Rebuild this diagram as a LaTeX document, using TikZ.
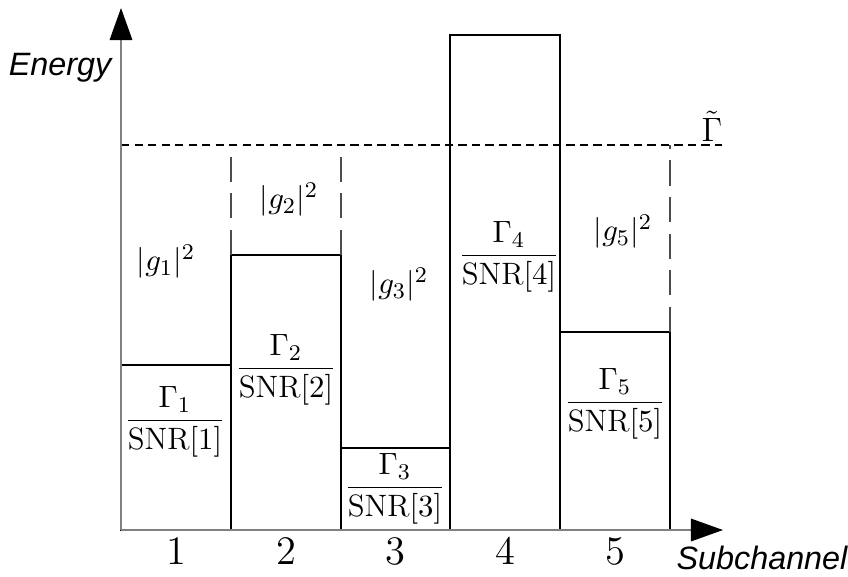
\documentclass[tikz,border=0pt]{standalone}
\usepackage{amsmath}
\usepackage{fontspec}
\newfontfamily\axisfont{Liberation Sans}
\usetikzlibrary{arrows.meta}

\tikzset{
  box/.style={draw=black, line width=0.6pt},
  gap/.style={black!70, line width=0.6pt, dash pattern=on 9pt off 4pt},
  level/.style={black, line width=0.5pt, dash pattern=on 3pt off 1.8pt},
  axis/.style={gray, line width=0.7pt, -{Triangle[length=0.4cm, width=0.28cm, color=black]}},
  lbl/.style={font=\fontsize{11}{13}\selectfont, inner sep=1pt},
  tick/.style={font=\fontsize{14}{16}\selectfont},
  axlabel/.style={font=\axisfont\itshape\fontsize{11.5}{13}\selectfont}
}

\begin{document}
\begin{tikzpicture}[x=0.0125cm, y=-0.0125cm]
  \useasboundingbox (0,0) rectangle (848,576);
  \coordinate (O) at (121,530);
  \coordinate (ytip) at (121,8);
  \coordinate (xtip) at (723,530);
  % subchannel boxes
  \draw[box] (121,530) rectangle (231,365);
  \draw[box] (231,530) rectangle (341,255);
  \draw[box] (341,530) rectangle (450,448);
  \draw[box] (450,530) rectangle (560,35);
  \draw[box] (560,530) rectangle (670,332);
  % water level
  \draw[gap] (231,255) -- (231,145);
  \draw[gap] (341,255) -- (341,145);
  \draw[gap] (670,332) -- (670,145);
  \draw[level] (121,145) -- (722,145);
  \node[font=\fontsize{12.5}{14}\selectfont, anchor=south, inner sep=0.3pt] (wl) at (712,143) {$\tilde{\Gamma}$};
  % axes
  \draw[axis] (O) -- (ytip);
  \draw[axis] (O) -- (xtip);
  \node[axlabel] (ylab) at (60,68) {Energy};
  \node[axlabel] (xlab) at (762,558) {Subchannel};
  \foreach \i/\x in {1/176,2/286,3/395,4/505,5/615}
    \node[tick] (t\i) at (\x,551) {$\i$};
  % labels
  \node[lbl] (g1) at (166,262) {$|g_1|^2$};
  \node[lbl] (g2) at (289,200) {$|g_2|^2$};
  \node[lbl] (g3) at (399,285) {$|g_3|^2$};
  \node[lbl] (g5) at (623,232) {$|g_5|^2$};
  \node[lbl] (r1) at (175,422) {$\dfrac{\Gamma_1}{\mathrm{SNR}[1]}$};
  \node[lbl] (r2) at (286,370) {$\dfrac{\Gamma_2}{\mathrm{SNR}[2]}$};
  \node[lbl] (r3) at (395,489) {$\dfrac{\Gamma_3}{\mathrm{SNR}[3]}$};
  \node[lbl] (r4) at (509,257) {$\dfrac{\Gamma_4}{\mathrm{SNR}[4]}$};
  \node[lbl] (r5) at (615,404) {$\dfrac{\Gamma_5}{\mathrm{SNR}[5]}$};
\end{tikzpicture}
\end{document}
